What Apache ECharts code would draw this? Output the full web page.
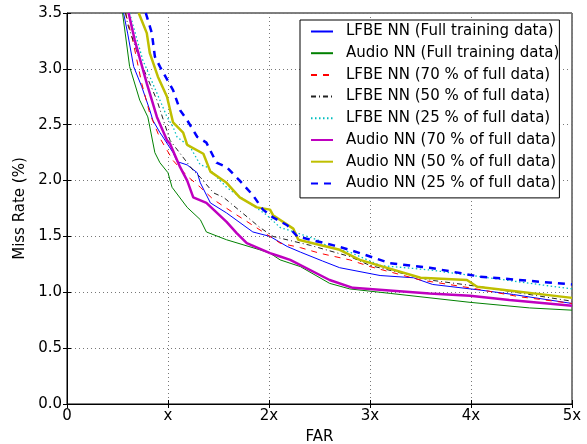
<!DOCTYPE html>
<html>
<head>
<meta charset="utf-8">
<title>Miss Rate vs FAR</title>
<script src="https://cdn.jsdelivr.net/npm/echarts@6/dist/echarts.min.js"></script>
</head>
<body style="margin:0">
<div id="container" style="width:587px;height:444px"></div>
<script type="text/javascript">
// FAR (multiples of x) vs miss rate (%)
var lfbeFull = [[0.56,3.5],[0.60,3.32],[0.66,3.02],[0.74,2.84],[0.82,2.63],[0.85,2.54],[0.92,2.43],[0.95,2.39],[1.05,2.25],[1.09,2.17],[1.19,2.14],[1.29,2.07],[1.32,1.98],[1.42,1.80],[1.58,1.71],[1.84,1.54],[2.01,1.50],[2.18,1.41],[2.31,1.36],[2.53,1.28],[2.70,1.22],[3.10,1.15],[3.43,1.13],[3.62,1.07],[4.09,1.02],[4.42,0.98],[5.0,0.90]];
var audioFull = [[0.55,3.5],[0.62,3.02],[0.72,2.72],[0.80,2.57],[0.82,2.48],[0.87,2.25],[0.92,2.16],[1.0,2.07],[1.04,1.94],[1.19,1.76],[1.32,1.65],[1.38,1.54],[1.58,1.47],[1.91,1.38],[2.01,1.35],[2.11,1.29],[2.31,1.23],[2.60,1.08],[2.80,1.03],[3.20,0.99],[3.99,0.91],[4.58,0.86],[5.0,0.84]];
var lfbe70 = [[0.58,3.5],[0.65,3.26],[0.74,2.87],[0.82,2.60],[0.92,2.38],[1.05,2.18],[1.19,2.04],[1.32,1.94],[1.45,1.83],[1.65,1.71],[2.01,1.50],[2.11,1.44],[2.31,1.40],[2.50,1.35],[2.80,1.29],[3.0,1.23],[3.50,1.11],[3.99,1.04],[4.48,0.96],[5.0,0.90]];
var lfbe50 = [[0.58,3.5],[0.60,3.40],[0.72,3.08],[0.89,2.72],[1.02,2.36],[1.25,2.09],[1.32,2.03],[1.45,1.89],[1.55,1.85],[1.91,1.58],[2.04,1.50],[2.41,1.42],[2.80,1.32],[3.0,1.24],[3.59,1.11],[4.09,1.05],[5.0,0.92]];
var lfbe25 = [[0.62,3.5],[0.75,3.08],[0.92,2.72],[0.99,2.57],[1.05,2.48],[1.09,2.39],[1.22,2.30],[1.32,2.14],[1.39,2.12],[1.58,1.94],[1.64,1.90],[1.98,1.69],[2.11,1.58],[2.18,1.56],[2.48,1.47],[2.60,1.40],[2.80,1.36],[3.10,1.24],[3.59,1.20],[4.09,1.14],[5.0,1.03]];
var audio70 = [[0.61,3.5],[0.67,3.26],[0.79,2.87],[0.82,2.78],[0.89,2.57],[0.99,2.36],[1.02,2.33],[1.12,2.12],[1.19,2.0],[1.25,1.85],[1.38,1.80],[1.58,1.63],[1.68,1.53],[1.78,1.44],[2.01,1.35],[2.11,1.32],[2.21,1.29],[2.60,1.11],[2.83,1.04],[3.59,0.99],[3.99,0.97],[4.38,0.93],[5.0,0.88]];
var audio50 = [[0.71,3.5],[0.79,3.32],[0.82,3.14],[0.90,2.93],[0.99,2.75],[1.05,2.52],[1.15,2.43],[1.19,2.32],[1.35,2.24],[1.42,2.08],[1.58,1.98],[1.71,1.85],[1.88,1.76],[2.01,1.74],[2.04,1.69],[2.24,1.57],[2.29,1.47],[2.70,1.38],[2.90,1.29],[3.50,1.13],[3.96,1.11],[4.06,1.05],[5.0,0.95]];
var audio25 = [[0.78,3.5],[0.84,3.32],[0.87,3.11],[0.92,3.02],[1.05,2.81],[1.12,2.63],[1.19,2.54],[1.29,2.39],[1.38,2.34],[1.48,2.16],[1.58,2.12],[1.71,2.0],[1.84,1.87],[1.94,1.74],[2.04,1.67],[2.18,1.60],[2.28,1.50],[2.64,1.42],[2.80,1.38],[3.20,1.26],[3.59,1.22],[4.09,1.14],[5.0,1.07]];

var names = [
    'LFBE NN (Full training data)',
    'Audio NN (Full training data)',
    'LFBE NN (70 % of full data)',
    'LFBE NN (50 % of full data)',
    'LFBE NN (25 % of full data)',
    'Audio NN (70 % of full data)',
    'Audio NN (50 % of full data)',
    'Audio NN (25 % of full data)'
];
var values = [lfbeFull, audioFull, lfbe70, lfbe50, lfbe25, audio70, audio50, audio25];
var xTickLabels = ['0', 'x', '2x', '3x', '4x', '5x'];

var styles = [
    {color: '#0000ff', width: 1, type: 'solid'},
    {color: '#008000', width: 1, type: 'solid'},
    {color: '#ff0000', width: 1, type: [6, 6]},
    {color: '#222222', width: 1, type: [5, 3, 1, 3]},
    {color: '#00bfbf', width: 1.3, type: [1.5, 2.5]},
    {color: '#bf00bf', width: 2.5, type: 'solid'},
    {color: '#bfbf00', width: 2.5, type: 'solid'},
    {color: '#0000ff', width: 2.5, type: [7, 6]}
];

var font = 'DejaVu Sans';
var dom = document.getElementById('container');
var myChart = echarts.init(dom);

var series = values.map(function (d, i) {
    return {
        name: names[i],
        type: 'line',
        data: d,
        symbol: 'none',
        clip: true,
        lineStyle: styles[i],
        itemStyle: {color: styles[i].color}
    };
});

var tickInside = {show: true, inside: true, length: 4, lineStyle: {color: '#000'}};

myChart.setOption({
    animation: false,
    grid: {
        left: 67, right: 15, top: 13, bottom: 40,
        outerBoundsMode: 'none',
        show: true, borderColor: '#000', borderWidth: 1
    },
    legend: {
        data: names,
        orient: 'vertical',
        left: 300,
        top: 20,
        itemWidth: 22,
        itemHeight: 15,
        itemGap: 6.7,
        padding: [4, 0, 7, 10],
        borderColor: '#000',
        borderWidth: 1,
        backgroundColor: '#fff',
        itemStyle: {opacity: 0},
        textStyle: {fontFamily: font, fontSize: 15, color: '#000', padding: [0, 0, 0, 8]}
    },
    xAxis: [{
        type: 'value',
        min: 0,
        max: 5,
        interval: 1,
        name: 'FAR',
        nameLocation: 'middle',
        nameGap: 26,
        nameTextStyle: {fontFamily: font, fontSize: 15, color: '#000'},
        axisLine: {show: true, lineStyle: {color: '#000'}},
        axisTick: tickInside,
        axisLabel: {
            fontFamily: font, fontSize: 15, color: '#000', margin: 5,
            formatter: function (v) { return xTickLabels[Math.round(v)]; }
        },
        splitLine: {show: true, lineStyle: {color: '#777', type: [1, 3]}}
    }, {
        type: 'value', position: 'top', min: 0, max: 5, interval: 1,
        axisLine: {show: false}, axisTick: tickInside, axisLabel: {show: false}, splitLine: {show: false}
    }],
    yAxis: [{
        type: 'value',
        min: 0,
        max: 3.5,
        interval: 0.5,
        name: 'Miss Rate (%)',
        nameLocation: 'middle',
        nameGap: 36,
        nameTextStyle: {fontFamily: font, fontSize: 15, color: '#000'},
        axisLine: {show: true, lineStyle: {color: '#000'}},
        axisTick: tickInside,
        axisLabel: {
            fontFamily: font, fontSize: 15, color: '#000', margin: 5,
            formatter: function (v) { return v.toFixed(1); }
        },
        splitLine: {show: true, lineStyle: {color: '#777', type: [1, 3]}}
    }, {
        type: 'value', position: 'right', min: 0, max: 3.5, interval: 0.5,
        axisLine: {show: false}, axisTick: tickInside, axisLabel: {show: false}, splitLine: {show: false}
    }],
    series: series
});
</script>
</body>
</html>
